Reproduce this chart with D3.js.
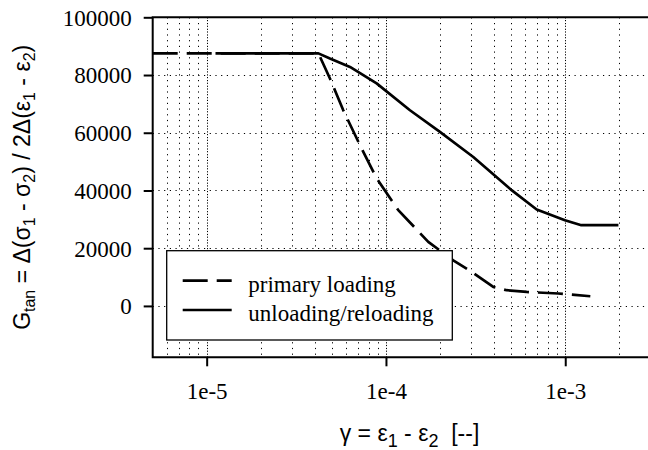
<!DOCTYPE html>
<html><head><meta charset="utf-8"><script src="https://cdn.jsdelivr.net/npm/d3@7"></script></head>
<body style="margin:0">
<svg id="c" width="648" height="450"></svg>
<script>
// ---- data ----
const primaryStrain = [5e-6, 4.2e-5, 4.87e-5, 5.78e-5, 7.16e-5, 8.87e-5, 1.171e-4, 1.722e-4, 2.373e-4, 3.006e-4, 3.968e-4, 4.71e-4, 6.09e-4, 9.14e-4, 1.38e-3];
const primaryG      = [87500, 87500, 78800, 67800, 55700, 44200, 33200, 22200, 15800, 11800, 6600, 5450, 4850, 4300, 3350];
const unloadStrain  = [1.12e-5, 4.2e-5, 4.87e-5, 6.3e-5, 8.87e-5, 1.361e-4, 2.0e-4, 3.07e-4, 5.02e-4, 6.93e-4, 9.96e-4, 1.23e-3, 1.98e-3];
const unloadG       = [87500, 87500, 85700, 82800, 77100, 67800, 60300, 51600, 40100, 33400, 29700, 27970, 27970];
const yTickValues = [0, 20000, 40000, 60000, 80000, 100000];
const yGridValues = [0, 20000, 40000, 60000, 80000];
const xTickValues = [1e-5, 1e-4, 1e-3];
const xTickLabels = ["1e-5", "1e-4", "1e-3"];
const legendLabels = ["primary loading", "unloading/reloading"];

const SERIF = "Liberation Serif";
const SANS = "Liberation Sans";
function serif(sel) { return sel.style("font-family", SERIF, "important").style("font-size", "23px", "important"); }
function sans(sel) { return sel.style("font-family", SANS, "important"); }

// ---- layout ----
const L = 152.7, T = 17.3, B = 357.3, R = 666;
const svg = d3.select("#c");
const x = d3.scaleLog().domain([5e-6, Math.pow(10, -2.438)]).range([L, R]);
const y = d3.scaleLinear().domain([-17800, 100000]).range([B, T]);

svg.append("defs").append("clipPath").attr("id", "clip")
  .append("rect").attr("x", L).attr("y", T).attr("width", R - L).attr("height", B - T);

// ---- grid ----
const grid = svg.append("g").attr("stroke", "#000").attr("stroke-width", 1)
  .attr("stroke-dasharray", "1.2,4.5").attr("fill", "none");
const xGrid = [];
for (let e = -6; e <= -2; e++) for (let m = 1; m <= 9; m++) {
  const v = m * Math.pow(10, e);
  if (v > x.domain()[0] && v < x.domain()[1]) xGrid.push(v);
}
grid.selectAll("line.vx").data(xGrid).join("line")
  .attr("x1", d => Math.round(x(d)) + 0.5).attr("x2", d => Math.round(x(d)) + 0.5)
  .attr("y1", T).attr("y2", B);
grid.selectAll("line.vm").data(xTickValues).join("line")
  .attr("x1", d => Math.round(x(d)) + 0.5).attr("x2", d => Math.round(x(d)) + 0.5)
  .attr("y1", T).attr("y2", B).attr("stroke-dashoffset", 3);
grid.selectAll("line.hy").data(yGridValues).join("line")
  .attr("x1", L).attr("x2", R)
  .attr("y1", d => Math.round(y(d)) + 0.5).attr("y2", d => Math.round(y(d)) + 0.5);

// ---- curves ----
const line = d3.line().x(d => x(d[0])).y(d => y(d[1]));
const plot = svg.append("g").attr("clip-path", "url(#clip)");
plot.append("path")
  .attr("d", line(primaryStrain.map((s, i) => [s, primaryG[i]])))
  .attr("fill", "none").attr("stroke", "#000").attr("stroke-width", 2.7)
  .attr("stroke-dasharray", "25,9").attr("stroke-linejoin", "round");
plot.append("path")
  .attr("d", line(unloadStrain.map((s, i) => [s, unloadG[i]])))
  .attr("fill", "none").attr("stroke", "#000").attr("stroke-width", 2.7)
  .attr("stroke-linejoin", "round");

// ---- axes ----
const yAxis = svg.append("g").attr("transform", `translate(${L},0)`)
  .call(d3.axisLeft(y).tickValues(yTickValues).tickSize(9).tickPadding(12).tickFormat(d3.format("d")));
yAxis.attr("font-family", SERIF).attr("font-size", 23);
yAxis.select(".domain").remove();
yAxis.selectAll(".tick line").attr("stroke-width", 2);
serif(yAxis.selectAll(".tick text")).attr("fill", "#000").attr("dy", "0.34em");

const xAxis = svg.append("g").attr("transform", `translate(0,${B})`)
  .call(d3.axisBottom(x).tickValues(xTickValues).tickSize(9).tickFormat((d, i) => xTickLabels[i]));
xAxis.attr("font-family", SERIF).attr("font-size", 23);
xAxis.select(".domain").remove();
xAxis.selectAll(".tick line").attr("stroke-width", 2);
serif(xAxis.selectAll(".tick text")).attr("fill", "#000").attr("y", 42).attr("dy", 0);

// box (right side off-canvas)
svg.append("path")
  .attr("d", `M${R},${T}H${L}V${B}H${R}`)
  .attr("fill", "none").attr("stroke", "#000").attr("stroke-width", 2);

// ---- axis labels ----
const xl = sans(svg.append("text")).attr("x", 409.5).attr("y", 441)
  .attr("text-anchor", "middle").attr("font-size", 23).attr("fill", "#000");
xl.append("tspan").text("γ = ε");
xl.append("tspan").attr("font-size", 18).attr("dy", 6).text("1");
xl.append("tspan").attr("dy", -6).text(" - ε");
xl.append("tspan").attr("font-size", 18).attr("dy", 6).text("2");
xl.append("tspan").attr("dy", -6).text("\u00a0 [--]");

const yl = sans(svg.append("text")).attr("transform", `translate(30,${(T + B) / 2}) rotate(-90)`)
  .attr("text-anchor", "middle").attr("font-size", 23).attr("fill", "#000");
yl.append("tspan").text("G");
yl.append("tspan").attr("font-size", 16).attr("dy", 5).text("tan");
yl.append("tspan").attr("dy", -5).text(" = Δ(σ");
yl.append("tspan").attr("font-size", 16).attr("dy", 5).text("1");
yl.append("tspan").attr("dy", -5).text(" - σ");
yl.append("tspan").attr("font-size", 16).attr("dy", 5).text("2");
yl.append("tspan").attr("dy", -5).text(") / 2Δ(ε");
yl.append("tspan").attr("font-size", 16).attr("dy", 5).text("1");
yl.append("tspan").attr("dy", -5).text(" - ε");
yl.append("tspan").attr("font-size", 16).attr("dy", 5).text("2");
yl.append("tspan").attr("dy", -5).text(")");

// ---- legend ----
const lg = svg.append("g");
lg.append("rect").attr("x", 166.7).attr("y", 250.7).attr("width", 285.6).attr("height", 89.3)
  .attr("fill", "#fff").attr("stroke", "#000").attr("stroke-width", 1.3);
const dashes = ["25,9", null];
legendLabels.forEach((lab, i) => {
  const cy = 280.7 + i * 29.3;
  lg.append("line").attr("x1", 182.7).attr("x2", 231.7).attr("y1", cy).attr("y2", cy)
    .attr("stroke", "#000").attr("stroke-width", 2.7)
    .attr("stroke-dasharray", dashes[i]);
  serif(lg.append("text")).attr("x", 248.3).attr("y", 291.7 + i * 29.3)
    .attr("fill", "#000")
    .text(lab);
});
</script>
</body>
</html>
